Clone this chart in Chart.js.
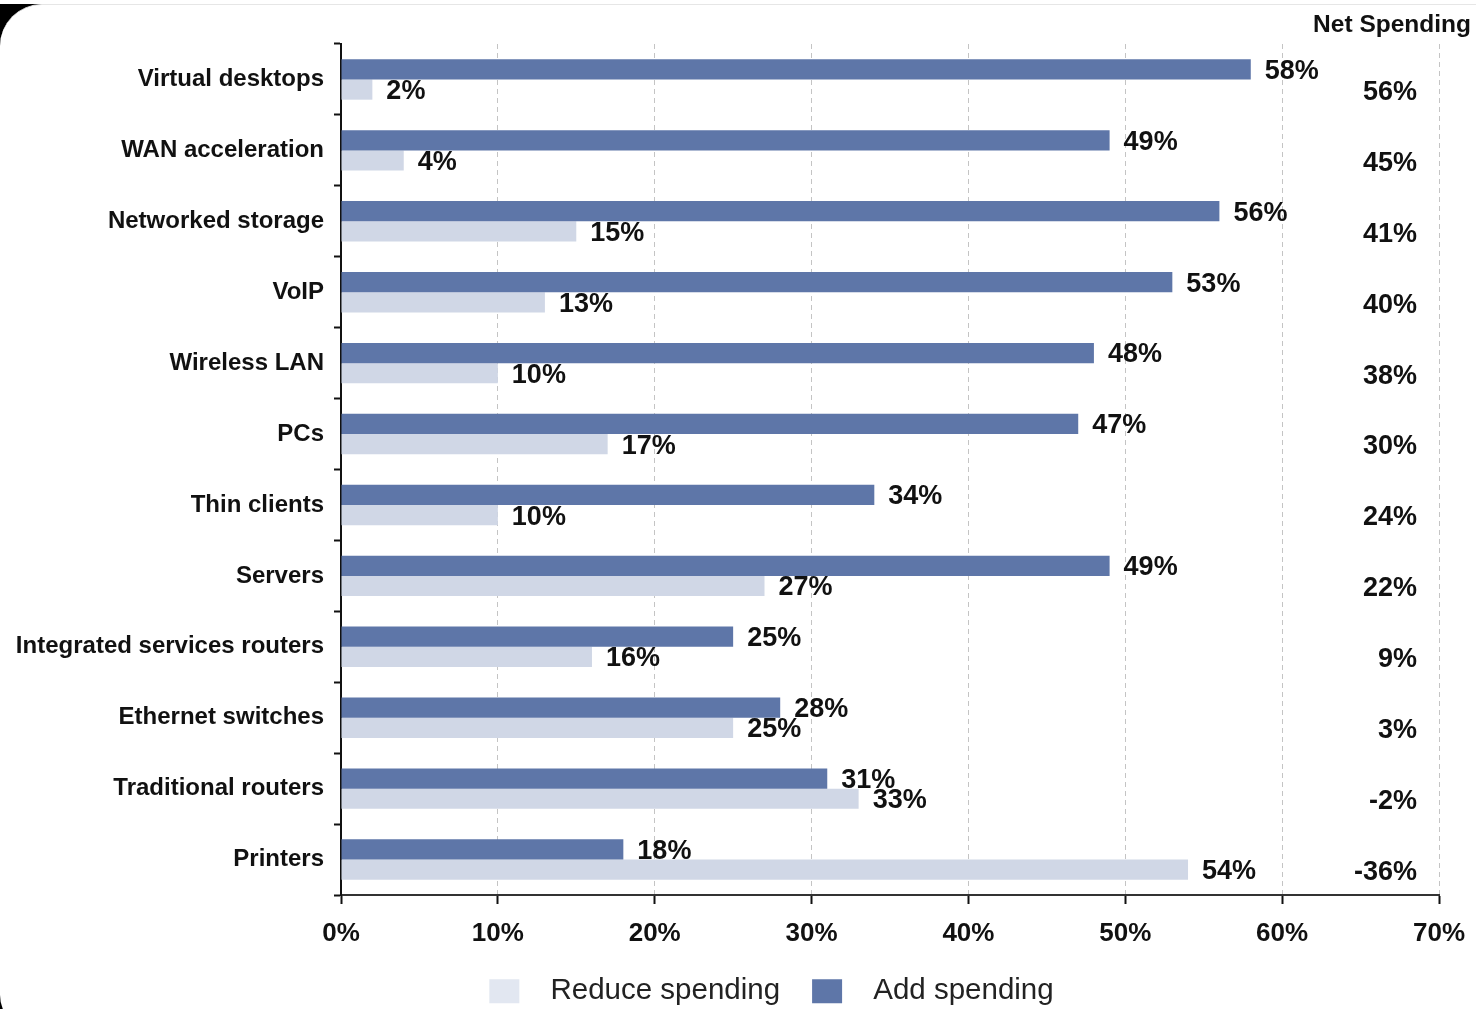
<!DOCTYPE html>
<html>
<head>
<meta charset="utf-8">
<script src="https://cdn.jsdelivr.net/npm/chart.js@4.4.0/dist/chart.umd.min.js"></script>
<style>
  html, body { margin: 0; padding: 0; background: #fff; overflow: hidden; }
  #corner { position: absolute; left: 0; top: 4px; width: 60px; height: 1010px; background: #000; }
  #card { position: absolute; left: 0; top: 4px; width: 1476px; height: 1026px; background: #fff;
          border-top: 1px solid #e6e6e6; border-top-left-radius: 42px; border-bottom-left-radius: 36px; }
  #wrap { position: absolute; left: 0; top: 0; width: 1476px; height: 1009px; }
</style>
</head>
<body>
<div id="corner"></div>
<div id="card"></div>
<div id="wrap"><canvas id="grafico"></canvas></div>
<script>
// dados
const categorias = [
  "Virtual desktops", "WAN acceleration", "Networked storage", "VoIP",
  "Wireless LAN", "PCs", "Thin clients", "Servers",
  "Integrated services routers", "Ethernet switches", "Traditional routers", "Printers"
];
const addSpending = [58, 49, 56, 53, 48, 47, 34, 49, 25, 28, 31, 18];
const reduceSpending = [2, 4, 15, 13, 10, 17, 10, 27, 16, 25, 33, 54];
const netSpending = [56, 45, 41, 40, 38, 30, 24, 22, 9, 3, -2, -36];
const xMin = 0;
const xMax = 70;
const xStep = 10;

const corTexto = "#111";
const fonte = "'Liberation Sans', Arial, sans-serif";

// rótulos dos valores e coluna "Net Spending"
const rotulos = {
  id: "rotulos",
  afterLayout(chart) {
    // legenda um pouco deslocada para a direita, como no original
    const leg = chart.legend;
    leg.left += 47; leg.right += 47;
    leg.top += 3; leg.bottom += 3;
  },
  afterDatasetsDraw(chart) {
    const ctx = chart.ctx;
    const area = chart.chartArea;
    const y = chart.scales.y;
    ctx.save();
    ctx.fillStyle = corTexto;
    ctx.font = "bold 27px " + fonte;
    ctx.textBaseline = "middle";
    ctx.textAlign = "left";
    chart.data.datasets.forEach((ds, d) => {
      chart.getDatasetMeta(d).data.forEach((barra, i) => {
        ctx.fillText(ds.data[i] + "%", barra.x + 14, barra.y + 2);
      });
    });
    ctx.textAlign = "right";
    netSpending.forEach((v, i) => {
      ctx.fillText(v + "%", area.right - 22, y.getPixelForValue(i) + 13);
    });
    ctx.font = "bold 24.5px " + fonte;
    ctx.fillText("Net Spending", chart.width - 5, 25);
    ctx.restore();
  }
};

const ctx = document.getElementById("grafico");

new Chart(ctx, {
  type: "bar",
  data: {
    labels: categorias,
    datasets: [
      {
        label: "Add spending",
        data: addSpending,
        backgroundColor: "#5e76a8",
        categoryPercentage: 0.57,
        barPercentage: 1.0,
      },
      {
        label: "Reduce spending",
        data: reduceSpending,
        backgroundColor: "#d0d7e6",
        categoryPercentage: 0.57,
        barPercentage: 1.0,
      },
    ],
  },
  options: {
    indexAxis: "y",
    responsive: true,
    maintainAspectRatio: false,
    animation: false,
    layout: { padding: { top: 44, left: 10, right: 37, bottom: -4 } },
    plugins: {
      legend: {
        position: "bottom",
        reverse: true,
        labels: {
          boxWidth: 30,
          boxHeight: 24,
          padding: 32,
          color: "#222",
          font: { family: fonte, size: 29.5 },
          generateLabels: (chart) => {
            const itens = Chart.defaults.plugins.legend.labels.generateLabels(chart);
            itens.forEach((it) => {
              it.text = "  " + it.text;
              it.lineWidth = 0;
              if (it.datasetIndex === 1) it.fillStyle = "#e2e7f1";
            });
            return itens;
          },
        },
      },
      tooltip: { enabled: false },
    },
    scales: {
      x: {
        min: xMin,
        max: xMax,
        ticks: {
          stepSize: xStep,
          padding: 14,
          color: corTexto,
          font: { family: fonte, size: 26, weight: "bold" },
          callback: (v) => v + "%",
        },
        grid: {
          color: "#c4c4c4",
          lineWidth: 1,
          tickColor: "#111",
          tickLength: 9,
          tickWidth: 2,
        },
        border: { color: "#333", width: 2, dash: [5, 4] },
        afterFit: (s) => { s.height = 46.5; s.paddingLeft = 0; s.paddingRight = 0; },
      },
      y: {
        ticks: {
          padding: 10,
          color: corTexto,
          font: { family: fonte, size: 24, weight: "bold" },
        },
        grid: {
          drawOnChartArea: false,
          offset: true,
          tickColor: "#111",
          tickLength: 7,
          tickWidth: 2,
        },
        border: { color: "#111", width: 2 },
        afterFit: (s) => { s.width = 331; },
      },
    },
  },
  plugins: [rotulos],
});
</script>
</body>
</html>
